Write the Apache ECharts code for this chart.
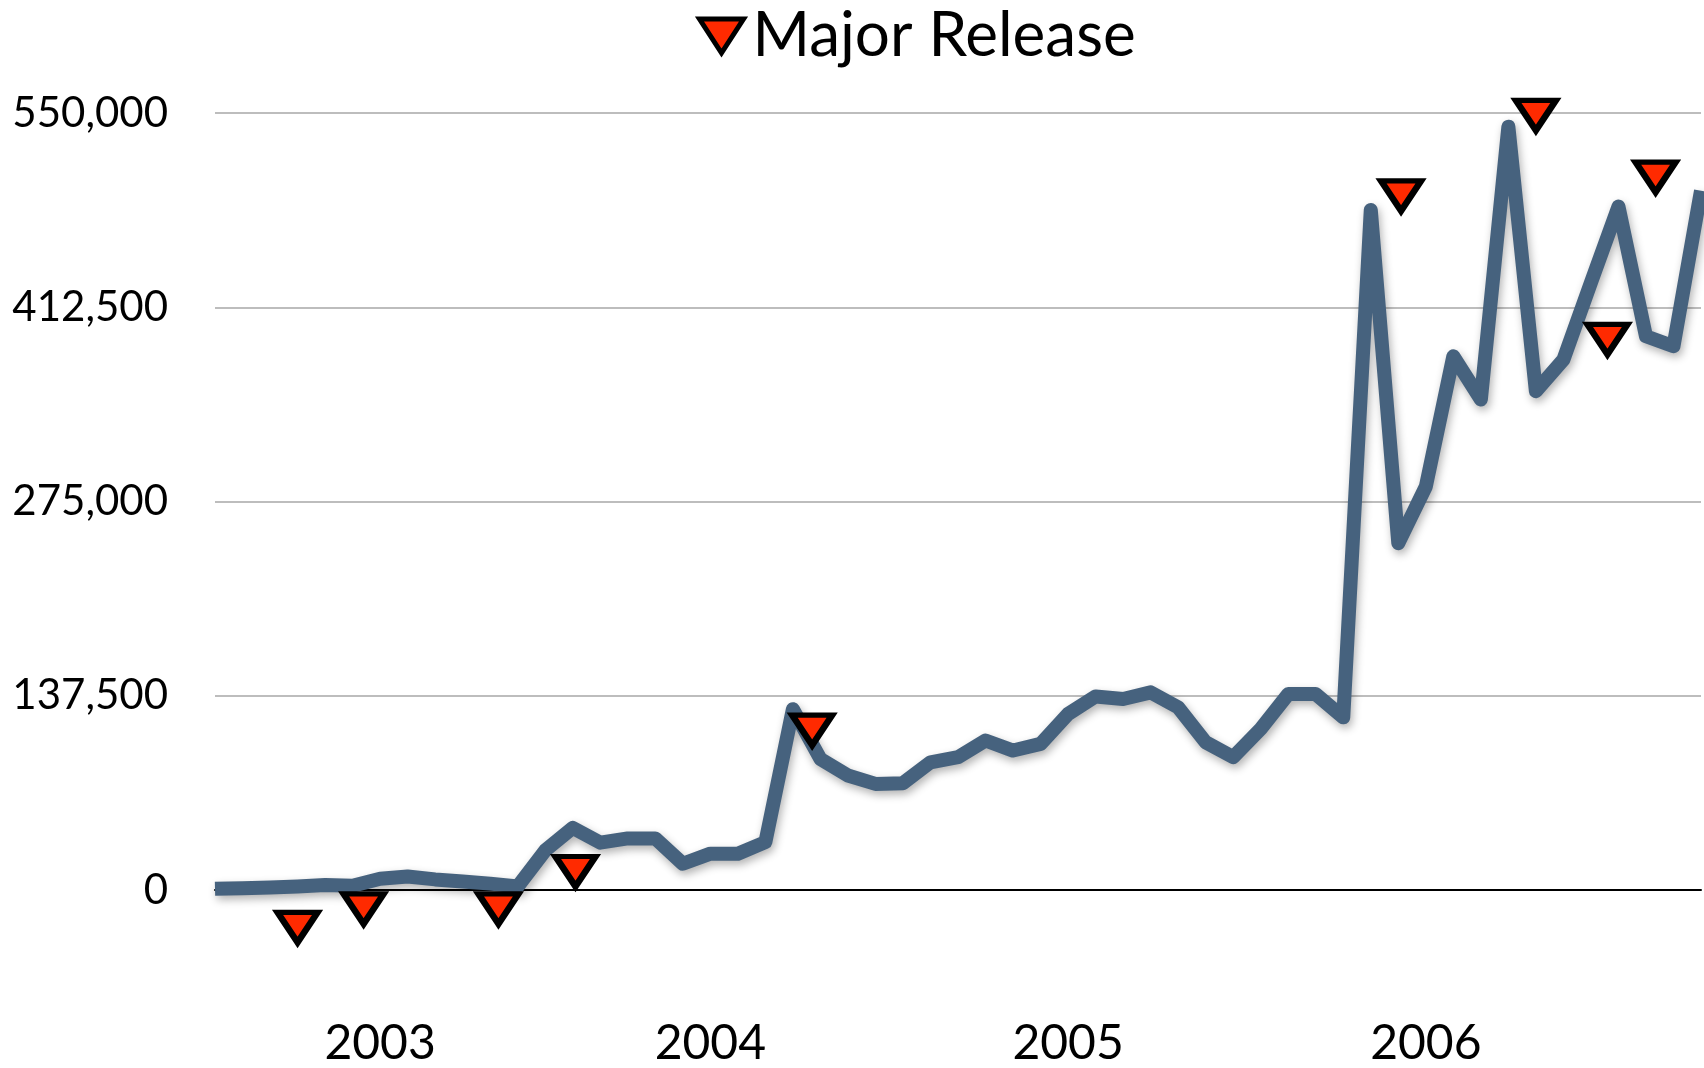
<!DOCTYPE html>
<html>
<head>
<meta charset="utf-8">
<title>Major Release</title>
<script src="https://cdn.jsdelivr.net/npm/echarts@6/dist/echarts.min.js"></script>
<style>
	html, body { margin: 0; padding: 0; background: #fff; }
	#chart { width: 1704px; height: 1068px; }
</style>
</head>
<body>
<div id="chart"></div>
<script>
// monthly categories, only the year ticks carry a label
const categories = [
	"", "", "", "", "", "", "2003", "", "", "", "", "", "", "", "", "", "", "",
	"2004", "", "", "", "", "", "", "", "", "", "", "", "", "2005", "", "", "", "",
	"", "", "", "", "", "", "", "", "2006", "", "", "", "", "", "", "", "", "", ""
];
const downloads = [
	800, 1300, 1700, 2500, 3500, 3000, 8000, 9500, 7500, 6000, 4500, 2500,
	28000, 44000, 33500, 36500, 36500, 18600, 25700, 25700, 33900, 128000, 92800, 81000,
	75100, 75600, 90400, 94000, 105800, 98700, 103400, 124600, 137000, 135200, 139900, 129300,
	104600, 94000, 114000, 138700, 138700, 122200, 481400, 245500, 285500, 377800, 347200, 540300,
	353100, 375400, 430000, 483800, 392000, 384900, 495000
];
// release markers: position in months from the first point, and height
const releaseAt = [3.0, 5.4, 10.3, 13.1, 21.7, 43.1, 48.0, 50.6, 52.35];
const releaseLevel = [-26500, -13400, -13400, 13100, 113200, 491300, 548300, 389800, 504600];
const yTicks = [0, 137500, 275000, 412500, 550000];

const fontFamily = "Lato";
let myChart = echarts.init(document.getElementById("chart"));
let option = {
	backgroundColor: "#fff",
	animation: false,
	legend: {
		top: 5,
		left: 697,
		padding: 0,
		itemWidth: 44,
		itemHeight: 34,
		icon: "path://M0,0 L44,0 L22,34 Z",
		itemStyle: { color: "#ff2a00", borderColor: "#000", borderWidth: 5, borderJoin: "miter", opacity: 1 },
		textStyle: { fontFamily, fontSize: 62, color: "#000", padding: [0, 0, 0, 4] },
		data: ["Major Release"]
	},
	grid: {
		left: 215,
		right: 0,
		top: 113,
		bottom: 175
	},
	xAxis: [
		{
			type: "category",
			data: categories,
			boundaryGap: false,
			axisTick: { show: false },
			axisLine: { lineStyle: { color: "#000", width: 2 } },
			axisLabel: {
				interval: 0,
				margin: 130,
				fontFamily,
				fontSize: 48,
				color: "#000"
			}
		},
		{
			type: "value",
			min: 0,
			max: categories.length - 1,
			show: false
		}
	],
	yAxis: {
		type: "value",
		min: yTicks[0],
		max: yTicks[yTicks.length - 1],
		interval: yTicks[1] - yTicks[0],
		axisLine: { show: false },
		axisTick: { show: false },
		splitLine: { lineStyle: { color: "#bdbdbd", width: 2 } },
		axisLabel: {
			margin: 47,
			fontFamily,
			fontSize: 42,
			color: "#000",
			formatter: (v) => v.toLocaleString("en-US")
		}
	},
	series: [
		{
			name: "Downloads",
			type: "line",
			data: downloads,
			symbol: "none",
			clip: false,
			z: 2,
			lineStyle: {
				color: "#46627e",
				width: 14,
				join: "round",
				cap: "butt",
				shadowColor: "rgba(0, 0, 0, 0.3)",
				shadowBlur: 8,
				shadowOffsetX: 2,
				shadowOffsetY: 4
			}
		},
		{
			name: "Major Release",
			type: "scatter",
			xAxisIndex: 1,
			clip: false,
			z: 5,
			symbol: "triangle",
			symbolRotate: 180,
			symbolSize: [40, 30],
			itemStyle: {
				color: "#ff2a00",
				borderColor: "#000",
				borderWidth: 6,
				borderJoin: "miter",
				opacity: 1
			},
			emphasis: { disabled: true },
			data: releaseAt.map((x, i) => [x, releaseLevel[i]])
		}
	]
};
myChart.setOption(option);
</script>
</body>
</html>
